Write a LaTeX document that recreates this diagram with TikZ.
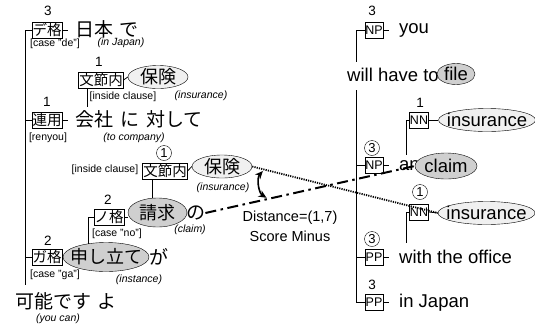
\documentclass[tikz,border=0pt]{standalone}
\usepackage{fontspec}
\setmainfont{Liberation Sans}
\newfontfamily\jp{Noto Sans CJK JP}
\usetikzlibrary{shapes.geometric,arrows.meta}
\begin{document}
\begin{tikzpicture}[x=1pt,y=-1pt,
  jbox/.style={draw, rectangle, inner xsep=0.6pt, inner ysep=0pt, minimum height=16pt, font=\jp\fontsize{14.5}{14.5}\selectfont},
  ebox/.style={draw, rectangle, inner xsep=0.5pt, inner ysep=0pt, minimum height=16pt, font=\fontsize{12.5}{12.5}\selectfont},
  jtext/.style={font=\jp\fontsize{19}{19}\selectfont, inner sep=0pt},
  jell/.style={font=\jp\fontsize{18}{18}\selectfont},
  etext/.style={font=\fontsize{18.5}{18.5}\selectfont, inner sep=0pt},
  small/.style={font=\fontsize{10.5}{11}\selectfont, inner sep=0pt},
  gloss/.style={font=\itshape\fontsize{10.5}{11}\selectfont, inner sep=0pt},
  num/.style={font=\fontsize{13.5}{13.5}\selectfont, inner sep=0pt},
  cnum/.style={draw, circle, minimum size=15pt, inner sep=0pt, font=\fontsize{13}{13}\selectfont},
  dark/.style={draw, ellipse, fill=gray!38, inner xsep=-20pt, inner ysep=-8pt},
  light/.style={draw, ellipse, fill=gray!12, inner xsep=-20pt, inner ysep=-8pt},
  tree/.style={line width=0.8pt},
  dotline/.style={line width=1.8pt, dash pattern=on 1.2pt off 1.1pt},
  dashdot/.style={line width=2pt, dash pattern=on 11pt off 4.5pt on 2.5pt off 4.5pt}
]
\useasboundingbox (0,0) rectangle (535,327);

% ---------- left tree ----------
\coordinate (lsbot) at (25,285);
\node[num] (n3a) at (48,11) {3};
\node[jbox] (deBox) at (47,30) {デ格};
\node[jtext, anchor=west] (nihon) at (75,29) {日本\hspace{6pt}で};
\node[small] (caseDe) at (55,44) {[case "de"]};
\node[gloss] (inJapan) at (121,43) {(in Japan)};

\node[num] (n1a) at (99,62) {1};
\node[jbox] (bunA) at (101,80) {文節内};
\node[jell, light, minimum width=60pt, minimum height=23pt] (hokenA) at (158,77) {保険};
\node[small] (insideA) at (123,97) {[inside clause]};
\node[gloss] (insA) at (201,96) {(insurance)};
\coordinate (kA) at (87,107);

\node[num] (n1b) at (47,102) {1};
\node[jbox] (renyou) at (47,120) {連用};
\node[jtext, anchor=west] (kaisha) at (75,119) {会社\hspace{7pt}に\hspace{7pt}対して};
\node[small] (renyouLbl) at (48,138) {[renyou]};
\node[gloss] (toComp) at (134,138) {(to company)};

\node[cnum] (c1a) at (164,153) {1};
\node[jbox] (bunB) at (165,171) {文節内};
\node[small] (insideB) at (105,170) {[inside clause]};
\node[jell, light, minimum width=60pt, minimum height=23pt] (hokenB) at (222,166.5) {保険};
\node[gloss] (insB) at (223,188) {(insurance)};
\coordinate (kB) at (152,198);

\node[jell, dark, minimum width=59pt, minimum height=29pt] (seikyu) at (157.5,212.5) {請求};
\node[jtext, anchor=west] (no) at (186,213) {の};
\node[gloss] (claimLbl) at (190,230) {(claim)};

\node[num] (n2a) at (108,200) {2};
\node[jbox] (noBox) at (109,217) {ノ格};
\node[small] (caseNo) at (117,234) {[case "no"]};
\coordinate (kC) at (88,244);

\node[num] (n2b) at (48,241) {2};
\node[jbox] (gaBox) at (47,257) {ガ格};
\node[small] (caseGa) at (55,275) {[case "ga"]};
\node[jell, dark, minimum width=86pt, minimum height=29pt] (moushi) at (106,257) {申し立て};
\node[jtext, anchor=west] (ga) at (149,257) {が};
\node[gloss] (instance) at (139,280) {(instance)};

\node[jtext, anchor=west] (kanou) at (15,301) {可能です\hspace{6pt}よ};
\node[gloss] (youcan) at (58,319) {(you can)};

\draw[tree] (deBox.west) -| (lsbot);
\draw[tree] (renyou.west) -- (renyou.west -| lsbot);
\draw[tree] (gaBox.west) -- (gaBox.west -| lsbot);
\draw[tree] (deBox.east) -- +(6,0);
\draw[tree] (renyou.east) -- +(6,0);
\draw[tree] (gaBox.east) -- (moushi.west);
\draw[tree] (bunA.east) -- (hokenA.west);
\draw[tree] (kA |- bunA.south) -- (kA);
\draw[tree] (bunB.east) -- (hokenB.west);
\draw[tree] (kB |- bunB.south) -- (kB);
\draw[tree] (noBox.east) -- (noBox.east -| seikyu.west);
\draw[tree] (noBox.west) -| (kC);

% ---------- right tree ----------
\coordinate (rs1) at (356,62);
\coordinate (rs2) at (356,90);
\coordinate (rA) at (406,155);
\coordinate (rB) at (406,243);

\node[num] (n3c) at (372,11) {3};
\node[ebox] (npA) at (374,30) {NP};
\node[etext, anchor=west] (you) at (399,30) {you};

\node[etext, anchor=west] (willhave) at (347,75) {will have to};
\node[etext, dark, minimum width=38pt, minimum height=21pt] (file) at (456,74) {file};

\node[num] (n1c) at (420,103) {1};
\node[ebox] (nnA) at (419,120) {NN};
\node[etext, light, minimum width=97pt, minimum height=23pt] (insC) at (487,120) {insurance};

\node[cnum] (c3a) at (372,148) {3};
\node[ebox] (npB) at (374,165) {NP};
\node[etext, anchor=west] (an) at (399,166) {an};
\node[etext, dark, minimum width=62pt, minimum height=26pt] (claim) at (446,166) {claim};

\node[cnum] (c1b) at (420,192) {1};
\node[ebox] (nnB) at (419,212) {NN};
\node[etext, light, minimum width=97pt, minimum height=23pt] (insD) at (486.5,213) {insurance};

\node[cnum] (c3b) at (372,239) {3};
\node[ebox] (ppA) at (374,257) {PP};
\node[etext, anchor=west] (office) at (399,257) {with the office};

\node[num] (n3d) at (372,285) {3};
\node[ebox] (ppB) at (374,302) {PP};
\node[etext, anchor=west] (injp) at (399,303) {in Japan};

\draw[tree] (npA.west) -| (rs1);
\draw[tree] (rs2) |- (ppB.west);
\draw[tree] (npB.west) -- (npB.west -| rs2);
\draw[tree] (ppA.west) -- (ppA.west -| rs2);
\draw[tree] (npA.east) -- +(6,0);
\draw[tree] (npB.east) -- +(6,0);
\draw[tree] (ppA.east) -- +(6,0);
\draw[tree] (ppB.east) -- +(6,0);
\draw[tree] (nnA.east) -- (insC.west);
\draw[tree] (nnA.west) -| (rA);
\draw[tree] (nnB.east) -- (insD.west);
\draw[tree] (nnB.west) -| (rB);

% ---------- comparison lines ----------
\draw[dotline] (hokenB.east) -- (insD.west) coordinate[pos=0.065] (ta);
\draw[dashdot] (no.east) -- (claim.west) coordinate[pos=0.3] (tb);
\draw[{Stealth[length=8pt,width=7pt]}-{Stealth[length=8pt,width=7pt]}, line width=1.6pt, shorten <=2pt, shorten >=2pt] (ta) to[bend right=50] (tb);

\node[font=\fontsize{14.5}{14.5}\selectfont, inner sep=0pt] (dist) at (290,218) {Distance=(1,7)};
\node[font=\fontsize{14.5}{14.5}\selectfont, inner sep=0pt] (score) at (290,236) {Score Minus};
\end{tikzpicture}
\end{document}
